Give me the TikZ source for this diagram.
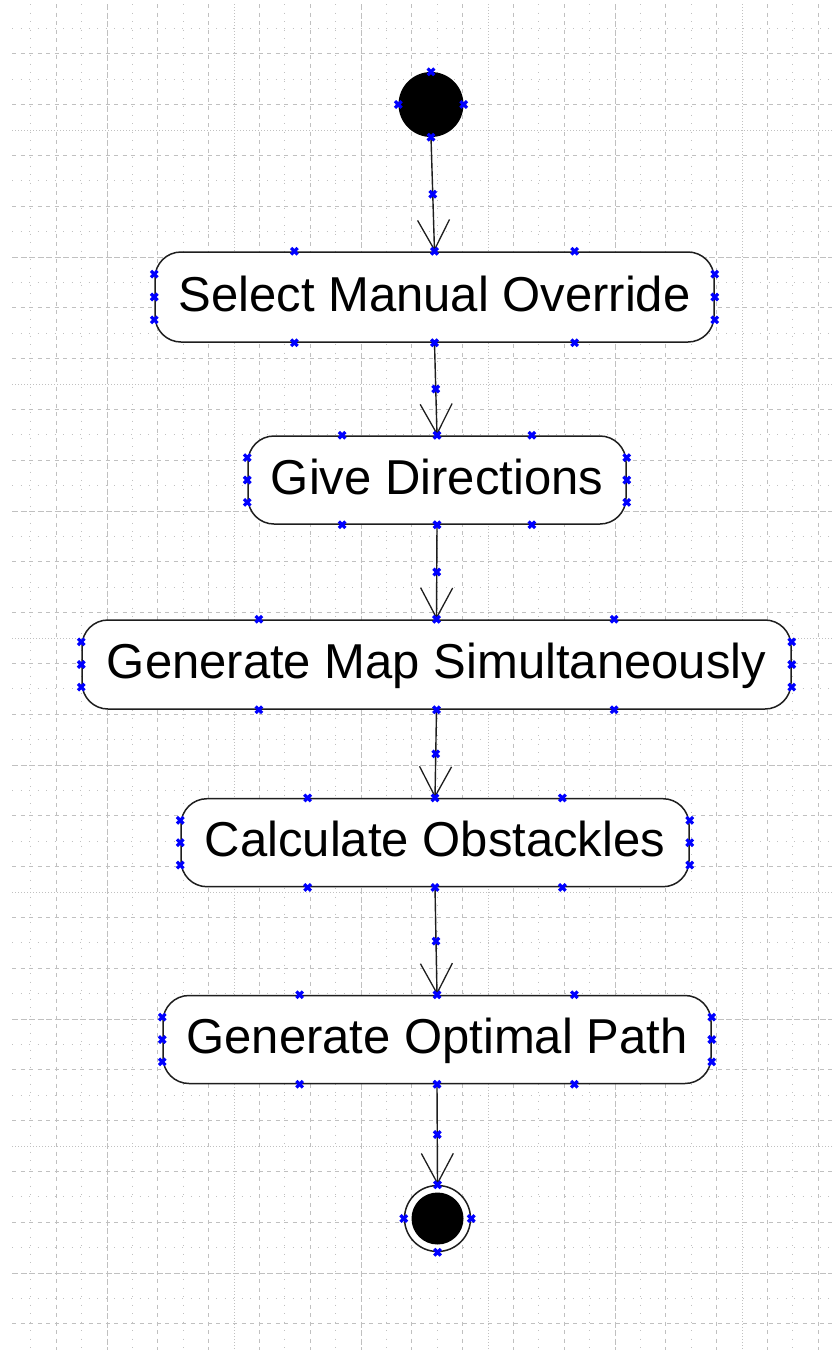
\documentclass[tikz,border=0pt]{standalone}
\usepackage{fontspec}
\setmainfont{Liberation Sans}
\usetikzlibrary{arrows.meta,calc}
\definecolor{gridc}{RGB}{192,192,192}
\definecolor{edge}{RGB}{30,30,30}
\definecolor{handleblue}{RGB}{0,0,255}

% blue handles on the straight parts of an activity box
\newcommand\edgepins[1]{%
  \foreach \t in {0.25,0.5,0.75}{%
    \pic at ($(#1.north west)!\t!(#1.north east)$) {bluex};
    \pic at ($(#1.south west)!\t!(#1.south east)$) {bluex};
    \pic at ($(#1.north west)!\t!(#1.south west)$) {bluex};
    \pic at ($(#1.north east)!\t!(#1.south east)$) {bluex};
  }}

\begin{document}
\begin{tikzpicture}[x=1pt,y=-1pt,
  act/.style={draw=edge, line width=1.5pt, fill=white, rounded corners=26pt,
    inner sep=0pt, text height=28pt, text depth=0pt,
    font=\fontsize{49}{58}\selectfont},
  flow/.style={draw=edge, line width=1.4pt,
    -{Straight Barb[length=30pt,width=32pt,line width=1.3pt]}},
  gbase/.style={draw=gridc, line width=1pt},
  gdot/.style={gbase, dash pattern=on 1.3pt off 7.2pt},
  gdash/.style={gbase, dash pattern=on 4pt off 4.5pt},
  gdensedot/.style={gbase, dash pattern=on 1.2pt off 1.8pt},
  gdensedash/.style={gbase, dash pattern=on 6pt off 2.5pt},
  bluex/.pic={\draw[draw=handleblue, line width=3.2pt]
    (-3.3,-3.3) -- (3.3,3.3) (-3.3,3.3) -- (3.3,-3.3);}
]
\useasboundingbox (0,0) rectangle (832,1350);
\fill[white] (0,0) rectangle (832,1350);

% background grid
\foreach \k in {-4,...,47}{%
  \pgfmathtruncatemacro\five{mod(\k+100,5)}%
  \pgfmathtruncatemacro\two{mod(\k+100,2)}%
  \pgfmathsetmacro\yy{130+25.4*\k}%
  \ifnum\five=0
    \ifnum\two=0 \def\gs{gdensedot}\else \def\gs{gdensedash}\fi
  \else
    \ifnum\two=0 \def\gs{gdot}\else \def\gs{gdash}\fi
  \fi
  \draw[\gs] (12,\yy) -- (832,\yy);
}
\foreach \k in {-3,...,28}{%
  \pgfmathtruncatemacro\five{mod(\k+100,5)}%
  \pgfmathtruncatemacro\two{mod(\k+100,2)}%
  \pgfmathsetmacro\xx{107+25.4*\k}%
  \ifnum\five=0
    \ifnum\two=0 \def\gs{gdensedash}\else \def\gs{gdensedot}\fi
  \else
    \ifnum\two=0 \def\gs{gdash}\else \def\gs{gdot}\fi
  \fi
  \draw[\gs] (\xx,4) -- (\xx,1350);
}

% initial and final states
\node[circle, fill=black, minimum size=65pt, inner sep=0pt] (start) at (431,104.5) {};
\node[circle, draw=edge, line width=1.5pt, fill=white, minimum size=66pt, inner sep=0pt] (stop) at (437.5,1218.5) {};
\node[circle, fill=black, minimum size=52pt, inner sep=0pt] (stopdot) at (stop.center) {};

% activities
\node[act, minimum width=559pt, minimum height=90pt] (b1) at (434.5,297) {Select Manual Override};
\node[act, minimum width=378pt, minimum height=88pt] (b2) at (437,480) {Give Directions};
\node[act, minimum width=709pt, minimum height=89pt] (b3) at (436.5,664.5) {Generate Map Simultaneously};
\node[act, minimum width=508pt, minimum height=88pt] (b4) at (435,842.7) {Calculate Obstackles};
\node[act, minimum width=548pt, minimum height=88pt] (b5) at (437,1039.5) {Generate Optimal Path};

% control flow
\draw[flow] (start.south) -- (b1.north);
\draw[flow] (b1.south) -- (b2.north);
\draw[flow] (b2.south) -- (b3.north);
\draw[flow] (b3.south) -- (b4.north);
\draw[flow] (b4.south) -- (b5.north);
\draw[flow] (b5.south) -- (stop.north);

% handles
\foreach \a in {north,south,east,west}{%
  \pic at (start.\a) {bluex};
  \pic at (stop.\a) {bluex};
}
\edgepins{b1}
\edgepins{b2}
\edgepins{b3}
\edgepins{b4}
\edgepins{b5}
\pic at ($(start.south)!0.5!(b1.north)$) {bluex};
\pic at ($(b1.south)!0.5!(b2.north)$) {bluex};
\pic at ($(b2.south)!0.5!(b3.north)$) {bluex};
\pic at ($(b3.south)!0.5!(b4.north)$) {bluex};
\pic at ($(b4.south)!0.5!(b5.north)$) {bluex};
\pic at ($(b5.south)!0.5!(stop.north)$) {bluex};
\end{tikzpicture}
\end{document}
